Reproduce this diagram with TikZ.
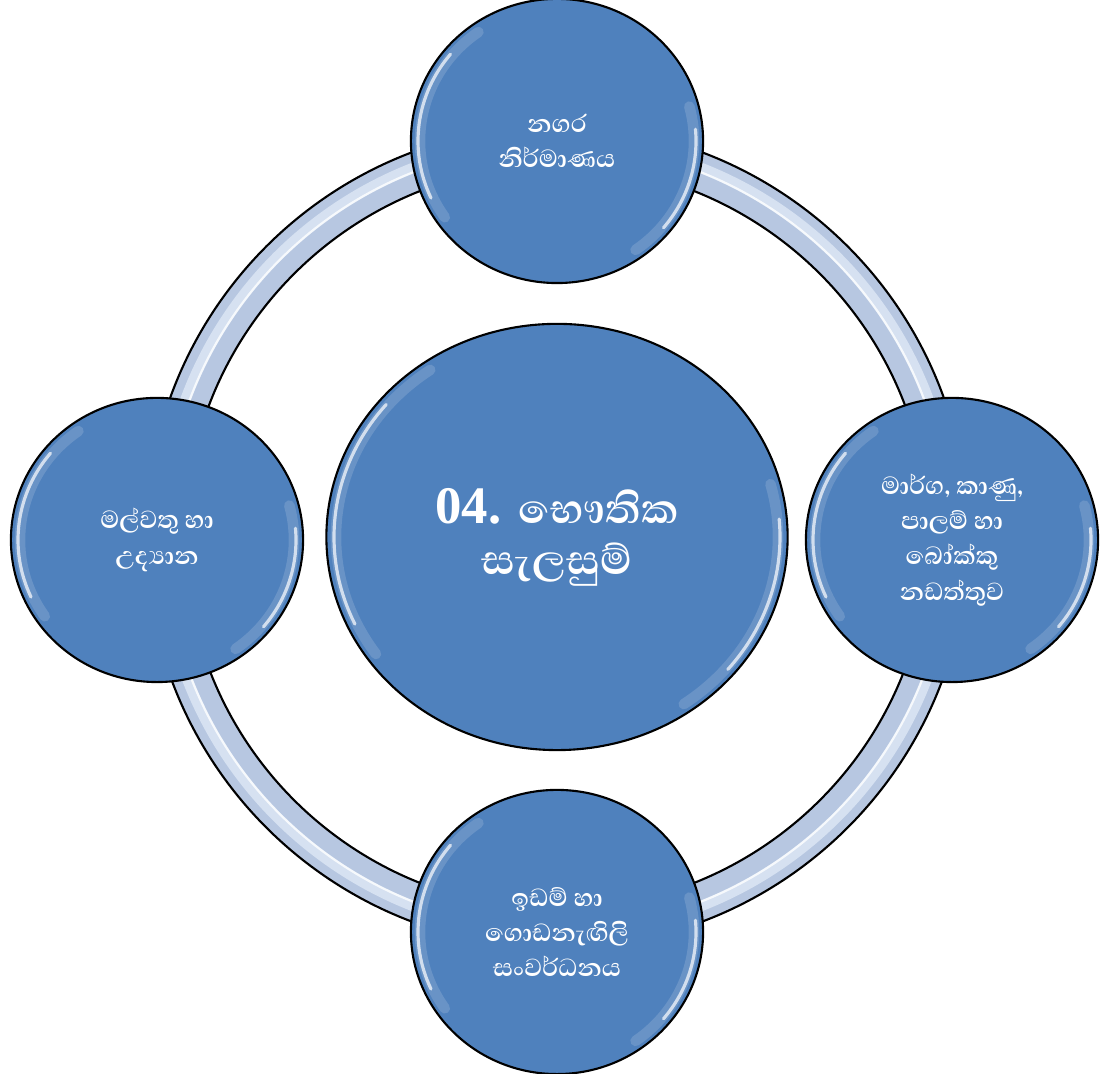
\documentclass[tikz,border=0pt]{standalone}
\usepackage{fontspec}
\setmainfont{Liberation Serif}
\newfontfamily\sinhala[Script=Sinhala]{Abhaya Libre}
\usetikzlibrary{shapes.geometric}
\definecolor{bubblue}{RGB}{79,129,189}
\definecolor{ringblue}{RGB}{183,199,225}
\definecolor{ringlight}{RGB}{214,225,241}

\begin{document}
\begin{tikzpicture}[x=0.01cm, y=0.01cm,
    bubble/.style={ellipse, draw=black, line width=0.6pt, fill=bubblue, text=white, align=center, inner sep=0pt, minimum width=2.92cm, minimum height=2.84cm, font=\sinhala\bfseries\fontsize{9}{10}\selectfont},
    hub/.style={bubble, minimum width=4.61cm, minimum height=4.26cm, font=\fontsize{15}{14.5}\selectfont\bfseries},
    gloss/.style={white, line width=0.9pt, opacity=0.7, line cap=round},
    glow/.style={white, line width=3pt, opacity=0.15, line cap=round}
]
    \useasboundingbox (0,0) rectangle (1103,1074);
    % ring behind the bubbles
    \fill[ringblue, even odd rule] (557,537) circle[radius=411] (557,537) circle[radius=372];
    \draw[ringlight, line width=3pt] (557,537) circle[radius=396];
    \draw[white, line width=0.6pt, opacity=0.8] (557,537) circle[radius=392];
    \draw[line width=0.6pt] (557,537) circle[radius=411] (557,537) circle[radius=372];

    \node[hub] (hub) at (557,537) {04. {\sinhala භෞතික}\\{\sinhala සැලසුම්}};
    \node[bubble] (top) at (557,933) {නගර\\නිර්මාණය};
    \node[bubble] (right) at (952,534) {මාර්ග, කාණු,\\පාලම් හා\\බෝක්කු\\නඩත්තුව};
    \node[bubble] (bottom) at (557,142) {ඉඩම් හා\\ගොඩනැඟිලි\\සංවර්ධනය};
    \node[bubble] (left) at (157,534) {මල්වතු හා\\උද්^^^^200dයාන};

    % glossy edges
    \foreach \nm/\rx/\ry in {hub/230/213, top/146/142, right/146/142, bottom/146/142, left/146/142} {
        \begin{scope}[shift={(\nm.center)}]
            \draw[glow] (125:{\rx-9} and {\ry-9}) arc[start angle=125, end angle=215, x radius=\rx-9, y radius=\ry-9];
            \draw[gloss] (140:{\rx-7} and {\ry-7}) arc[start angle=140, end angle=205, x radius=\rx-7, y radius=\ry-7];
            \draw[glow] (-55:{\rx-9} and {\ry-9}) arc[start angle=-55, end angle=15, x radius=\rx-9, y radius=\ry-9];
            \draw[gloss] (-40:{\rx-7} and {\ry-7}) arc[start angle=-40, end angle=5, x radius=\rx-7, y radius=\ry-7];
        \end{scope}
    }
\end{tikzpicture}
\end{document}
